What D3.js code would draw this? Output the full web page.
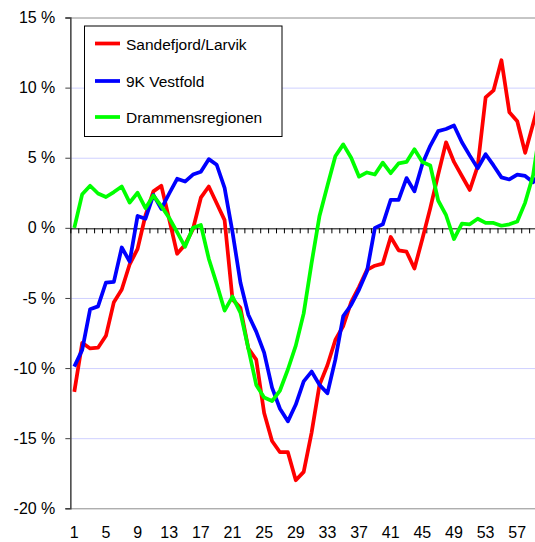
<!DOCTYPE html>
<html>
<head>
<meta charset="utf-8">
<script src="https://cdn.jsdelivr.net/npm/d3@7"></script>
<style>
  html, body { margin: 0; padding: 0; background: #fff; }
  svg { display: block; font-family: "Liberation Sans", Arial, sans-serif; }
</style>
</head>
<body>
<div id="chart"></div>
<script>
// Data (percent change per period)
const periods = d3.range(1, 61);
const xTickLabels = [1, 5, 9, 13, 17, 21, 25, 29, 33, 37, 41, 45, 49, 53, 57];
const yTicks = [15, 10, 5, 0, -5, -10, -15, -20];
const seriesNames = ["Sandefjord/Larvik", "9K Vestfold", "Drammensregionen"];
const seriesColors = ["#ff0000", "#0000ff", "#00ff00"];

const sandefjordLarvik = [
  -11.7, -8.2, -8.6, -8.55, -7.7, -5.3, -4.4, -2.6, -1.5, 0.9,
  2.6, 3.0, 0.6, -1.85, -1.2, -0.1, 2.15, 2.95, 1.75, 0.55,
  -5.1, -5.7, -8.6, -9.4, -13.2, -15.2, -16.0, -16.0, -18.0, -17.4,
  -14.6, -11.2, -9.8, -8.0, -7.0, -5.3, -4.2, -3.0, -2.7, -2.55,
  -0.65, -1.6, -1.7, -2.9, -0.8, 1.4, 3.8, 6.1, 4.7, 3.7,
  2.7, 4.4, 9.3, 9.8, 11.95, 8.25, 7.6, 5.35, 7.4, 9.5
];
const vestfold9K = [
  -9.9, -8.7, -5.8, -5.6, -3.9, -3.85, -1.4, -2.4, 0.85, 0.65,
  2.35, 1.35, 2.45, 3.5, 3.3, 3.8, 4.0, 4.9, 4.5, 2.85,
  -0.3, -3.9, -6.2, -7.4, -8.9, -11.4, -12.9, -13.8, -12.6, -10.95,
  -10.25, -11.2, -11.8, -9.4, -6.3, -5.5, -4.4, -3.1, 0.0, 0.25,
  2.0, 2.0, 3.55, 2.6, 4.55, 5.85, 6.9, 7.05, 7.3, 6.1,
  5.15, 4.25, 5.25, 4.45, 3.6, 3.45, 3.8, 3.7, 3.25, 4.0
];
const drammensregionen = [
  0.0, 2.4, 3.0, 2.45, 2.2, 2.55, 2.95, 1.8, 2.5, 1.4,
  2.3, 1.55, 0.7, -0.3, -1.35, 0.0, 0.2, -2.2, -4.0, -5.9,
  -4.9, -6.05, -8.6, -11.2, -12.1, -12.35, -11.6, -10.1, -8.4, -6.1,
  -2.5, 0.85, 3.0, 5.1, 5.95, 5.0, 3.65, 3.95, 3.8, 4.65,
  3.9, 4.6, 4.7, 5.6, 4.7, 4.45, 1.95, 0.9, -0.8, 0.3,
  0.25, 0.65, 0.35, 0.35, 0.15, 0.25, 0.45, 1.8, 3.75, 7.5
];
const allSeries = [sandefjordLarvik, vestfold9K, drammensregionen];

// Layout
const width = 535;
const height = 542;
const plotLeft = 70.35;
const plotTop = 17.5;
const plotBottom = 508.3;
const step = 7.91;
const plotRight = plotLeft + periods.length * step;

const x = d3.scaleLinear()
  .domain([0.5, periods.length + 0.5])
  .range([plotLeft, plotRight]);
const y = d3.scaleLinear()
  .domain([-20, 15])
  .range([plotBottom, plotTop]);

const svg = d3.select("#chart")
  .append("svg")
  .attr("width", width)
  .attr("height", height);

// Gridlines
svg.append("g")
  .selectAll("line")
  .data(yTicks.filter(d => d !== 0))
  .join("line")
  .attr("x1", plotLeft)
  .attr("x2", plotRight)
  .attr("y1", d => y(d) + 0.5)
  .attr("y2", d => y(d) + 0.5)
  .attr("stroke", d => (d === 15 || d === -20) ? "#8c8c8c" : "#cfd0ff")
  .attr("stroke-width", 1);

// Y axis
const yAxis = svg.append("g")
  .attr("transform", `translate(${plotLeft},0)`)
  .call(d3.axisLeft(y).tickValues(yTicks).tickSize(5).tickPadding(10)
    .tickFormat(d => d + " %"));
yAxis.select(".domain").attr("stroke", "#404040").attr("stroke-width", 1.5);
yAxis.selectAll(".tick line").attr("stroke", "#404040");
yAxis.selectAll("text")
  .attr("font-size", "16px")
  .attr("font-family", "Liberation Sans, Arial, sans-serif")
  .attr("fill", "#000");

// Zero line with category ticks
const xAxis = svg.append("g")
  .attr("transform", `translate(0,${y(0) + 0.5})`)
  .call(d3.axisBottom(x)
    .tickValues(d3.range(0.5, periods.length + 0.5, 1))
    .tickSize(5)
    .tickSizeOuter(0)
    .tickFormat(""));
xAxis.select(".domain").attr("stroke", "#000");
xAxis.selectAll(".tick line").attr("stroke", "#000");

// Category labels
svg.append("g")
  .selectAll("text")
  .data(xTickLabels)
  .join("text")
  .attr("x", d => x(d))
  .attr("y", 538)
  .attr("text-anchor", "middle")
  .attr("font-size", "16px")
  .text(d => d);

// Lines
const line = d3.line()
  .x((d, i) => x(periods[i]))
  .y(d => y(d));

svg.append("defs").append("clipPath")
  .attr("id", "plot-clip")
  .append("rect")
  .attr("x", plotLeft)
  .attr("y", 0)
  .attr("width", plotRight - plotLeft)
  .attr("height", height);

svg.append("g")
  .attr("clip-path", "url(#plot-clip)")
  .selectAll("path")
  .data(allSeries)
  .join("path")
  .attr("d", line)
  .attr("fill", "none")
  .attr("stroke", (d, i) => seriesColors[i])
  .attr("stroke-width", 3.75)
  .attr("stroke-linejoin", "round");

// Legend
const legend = svg.append("g");
legend.append("rect")
  .attr("x", 84.5)
  .attr("y", 26)
  .attr("width", 197.5)
  .attr("height", 110.5)
  .attr("fill", "#fff")
  .attr("stroke", "#000")
  .attr("stroke-width", 1);

const legendRows = [43.5, 81, 117];
legend.selectAll(".legend-line")
  .data(seriesNames)
  .join("line")
  .attr("class", "legend-line")
  .attr("x1", 95)
  .attr("x2", 120)
  .attr("y1", (d, i) => legendRows[i])
  .attr("y2", (d, i) => legendRows[i])
  .attr("stroke", (d, i) => seriesColors[i])
  .attr("stroke-width", 3.75);

legend.selectAll(".legend-label")
  .data(seriesNames)
  .join("text")
  .attr("class", "legend-label")
  .attr("x", 126)
  .attr("y", (d, i) => legendRows[i] + 6)
  .attr("font-size", "15.5px")
  .attr("fill", "#000")
  .text(d => d);
</script>
</body>
</html>
